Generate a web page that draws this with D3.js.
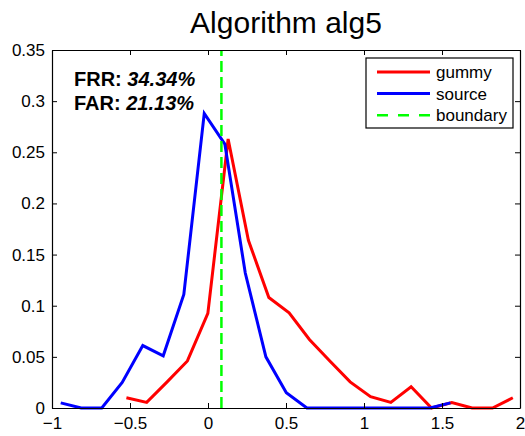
<!DOCTYPE html>
<html>
<head>
    <meta charset="utf-8">
    <title>Algorithm alg5</title>
    <script src="https://cdnjs.cloudflare.com/ajax/libs/d3/7.8.5/d3.min.js"></script>
    <style>
        body {
            margin: 0;
            background: #fff;
        }

        svg text {
            font-family: "Liberation Sans", Arial, sans-serif;
            fill: #000;
        }

        .axis path,
        .axis line {
            stroke: #000;
        }
    </style>
</head>
<body>
<svg id="chart"></svg>

<script>
    const width = 525;
    const height = 436;
    const margin = { top: 50, right: 5, bottom: 28, left: 52 };

    // values
    const sourceX = [-0.944, -0.813, -0.681, -0.550, -0.418, -0.287, -0.155, -0.024, 0.108, 0.239,
                     0.371, 0.502, 0.634, 0.765, 0.897, 1.028, 1.160, 1.291, 1.423, 1.554];
    const sourceY = [0.005, 0, 0, 0.025, 0.061, 0.051, 0.111, 0.288, 0.258, 0.132,
                     0.050, 0.015, 0, 0, 0, 0, 0, 0, 0, 0.005];

    const gummyX = [-0.523, -0.393, -0.262, -0.132, -0.001, 0.129, 0.259, 0.390, 0.520, 0.650,
                    0.781, 0.911, 1.042, 1.172, 1.302, 1.433, 1.563, 1.693, 1.824, 1.954];
    const gummyY = [0.010, 0.0055, 0.0255, 0.046, 0.0925, 0.263, 0.164, 0.108, 0.093, 0.067,
                    0.046, 0.0255, 0.011, 0.0055, 0.0208, 0, 0.0054, 0, 0, 0.010];

    const boundary = 0.086;
    const xTicks = [-1, -0.5, 0, 0.5, 1, 1.5, 2];
    const yTicks = [0, 0.05, 0.1, 0.15, 0.2, 0.25, 0.3, 0.35];
    const legendNames = ["gummy", "source", "boundary"];
    const legendColors = ["#ff0000", "#0000ff", "#00ff00"];
    const frr = "34.34%";
    const far = "21.13%";

    const svg = d3.select("#chart")
        .attr("width", width)
        .attr("height", height);

    const x = d3.scaleLinear().domain([-1, 2]).range([margin.left, width - margin.right]);
    const y = d3.scaleLinear().domain([0, 0.35]).range([height - margin.bottom, margin.top]);

    const fmt = d => d3.format("")(d).replace("-", "\u2212");

    // title
    svg.append("text")
        .attr("x", (x.range()[0] + x.range()[1]) / 2)
        .attr("y", 33)
        .attr("text-anchor", "middle")
        .style("font-size", "30px")
        .text("Algorithm alg5");

    // curves
    const line = d3.line().x(d => x(d[0])).y(d => y(d[1]));

    svg.append("path")
        .datum(gummyX.map((v, i) => [v, gummyY[i]]))
        .attr("d", line)
        .attr("fill", "none")
        .attr("stroke", legendColors[0])
        .attr("stroke-width", 3);

    svg.append("path")
        .datum(sourceX.map((v, i) => [v, sourceY[i]]))
        .attr("d", line)
        .attr("fill", "none")
        .attr("stroke", legendColors[1])
        .attr("stroke-width", 3);

    svg.append("line")
        .attr("x1", x(boundary)).attr("x2", x(boundary))
        .attr("y1", y(0)).attr("y2", y(0.35))
        .attr("stroke", legendColors[2])
        .attr("stroke-width", 2.5)
        .attr("stroke-dasharray", "11,5");

    // axes with inward ticks on all four sides
    const tick = 5;
    svg.append("g")
        .attr("class", "axis")
        .attr("transform", `translate(0,${y(0)})`)
        .call(d3.axisBottom(x).tickValues(xTicks).tickSizeInner(-tick).tickSizeOuter(0).tickPadding(9).tickFormat(fmt))
        .call(g => g.selectAll("text").style("font-size", "17px"));

    svg.append("g")
        .attr("class", "axis")
        .attr("transform", `translate(0,${y(0.35)})`)
        .call(d3.axisTop(x).tickValues(xTicks).tickSizeInner(-tick).tickSizeOuter(0).tickFormat(""));

    svg.append("g")
        .attr("class", "axis")
        .attr("transform", `translate(${x(-1)},0)`)
        .call(d3.axisLeft(y).tickValues(yTicks).tickSizeInner(-tick).tickSizeOuter(0).tickPadding(7).tickFormat(d3.format("")))
        .call(g => g.selectAll("text").style("font-size", "17px"));

    svg.append("g")
        .attr("class", "axis")
        .attr("transform", `translate(${x(2)},0)`)
        .call(d3.axisRight(y).tickValues(yTicks).tickSizeInner(-tick).tickSizeOuter(0).tickFormat(""));

    svg.selectAll(".axis .domain").attr("stroke-width", 1.2);

    // FRR / FAR annotation
    const note = svg.append("g").style("font-size", "20px").style("font-weight", "bold");
    [["FRR: ", frr, 86], ["FAR: ", far, 110]].forEach(r => {
        const t = note.append("text").attr("x", 74).attr("y", r[2]);
        t.append("tspan").text(r[0]);
        t.append("tspan").style("font-style", "italic").text(r[1]);
    });

    // legend
    const legend = svg.append("g");
    legend.append("rect")
        .attr("x", 366).attr("y", 58)
        .attr("width", 147).attr("height", 70)
        .attr("fill", "#fff")
        .attr("stroke", "#000")
        .attr("stroke-width", 1.2);

    legendNames.forEach((name, i) => {
        const ly = 72 + i * 21.6;
        legend.append("line")
            .attr("x1", 377).attr("x2", 430)
            .attr("y1", ly).attr("y2", ly)
            .attr("stroke", legendColors[i])
            .attr("stroke-width", i === 2 ? 2.5 : 3)
            .attr("stroke-dasharray", i === 2 ? "11,10" : null);
        legend.append("text")
            .attr("x", 436).attr("y", ly)
            .attr("dy", "0.35em")
            .style("font-size", "17px")
            .text(name);
    });
</script>
</body>
</html>
